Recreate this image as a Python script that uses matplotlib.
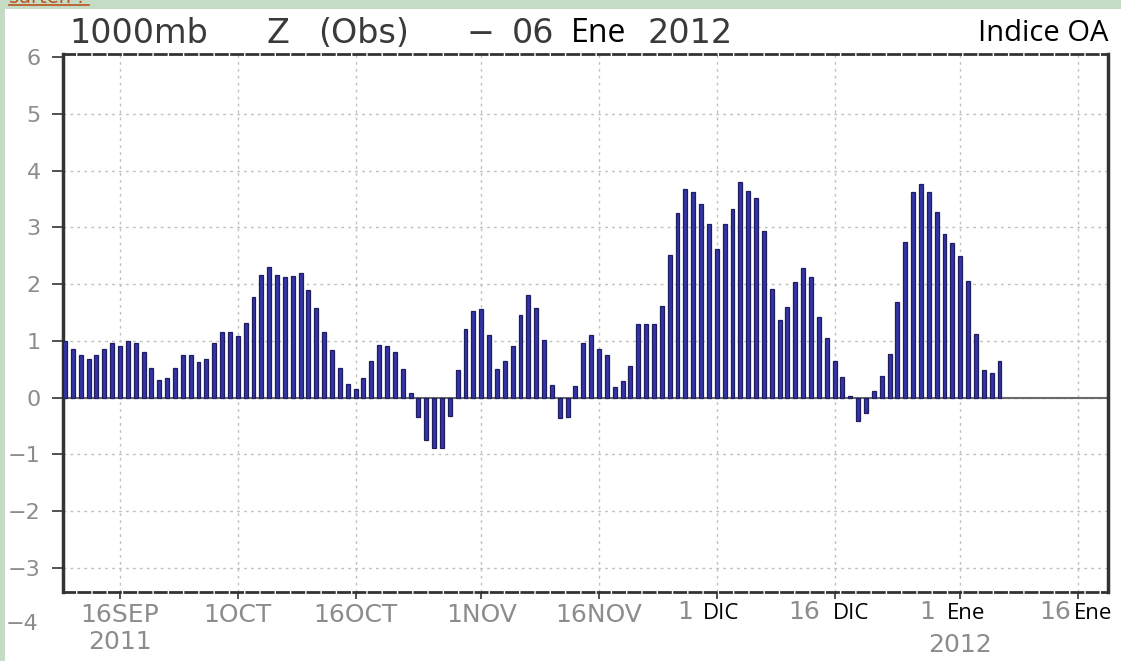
import matplotlib
matplotlib.use('Agg')
import matplotlib.pyplot as plt
import matplotlib.dates as mdates
from matplotlib.patches import Rectangle
from matplotlib.lines import Line2D
import pandas as pd

# daily index values, 9 Sep 2011 .. 6 Jan 2012
start_day = '2011-09-09'
end_day = '2012-01-06'
values = [
    # Sep 9-30
    0.99, 0.86, 0.75, 0.68, 0.75, 0.86, 0.97, 0.91, 0.99, 0.97, 0.81, 0.52,
    0.31, 0.34, 0.52, 0.75, 0.75, 0.62, 0.68, 0.97, 1.15, 1.15,
    # Oct
    1.09, 1.32, 1.77, 2.16, 2.30, 2.16, 2.12, 2.15, 2.19, 1.90, 1.58, 1.15,
    0.83, 0.53, 0.24, 0.15, 0.34, 0.65, 0.93, 0.91, 0.80, 0.50, 0.08, -0.35,
    -0.75, -0.89, -0.89, -0.32, 0.49, 1.21, 1.52,
    # Nov
    1.56, 1.11, 0.50, 0.65, 0.91, 1.46, 1.81, 1.58, 1.02, 0.22, -0.36, -0.34,
    0.21, 0.97, 1.11, 0.86, 0.75, 0.18, 0.29, 0.55, 1.29, 1.29, 1.29, 1.62,
    2.52, 3.25, 3.68, 3.62, 3.41, 3.06,
    # Dec
    2.62, 3.06, 3.33, 3.80, 3.65, 3.52, 2.93, 1.91, 1.36, 1.60, 2.03, 2.28,
    2.12, 1.42, 1.05, 0.64, 0.36, 0.02, -0.42, -0.28, 0.11, 0.38, 0.76, 1.68,
    2.75, 3.62, 3.77, 3.62, 3.27, 2.88, 2.72,
    # Jan
    2.50, 2.05, 1.12, 0.49, 0.44, 0.64,
]

tick_dates = ['2011-09-16', '2011-10-01', '2011-10-16', '2011-11-01', '2011-11-16',
              '2011-12-01', '2011-12-16', '2012-01-01', '2012-01-16']
plain_labels = ['16SEP\n2011', '1OCT', '16OCT', '1NOV', '16NOV']
# edited labels: (gray day number, black month name)
edited_days = ['1', '16', '1', '16']
edited_months = ['DIC', 'DIC', 'Ene', 'Ene']
y_ticks = [-3, -2, -1, 0, 1, 2, 3, 4, 5, 6]

GRAY = '#8c8c8c'
DARK = '#333333'

days = pd.date_range(start_day, end_day, freq='D')
xnum = mdates.date2num(days)
tnum = mdates.date2num(pd.to_datetime(tick_dates))
px_day = 7.852  # pixels per day on the x axis

fig = plt.figure(figsize=(11.21, 6.61), dpi=100)
fig.patch.set_facecolor('#c5dbc5')
fig.add_artist(Rectangle((5 / 1121, 0), 1, 1 - 9 / 661, transform=fig.transFigure,
                         facecolor='white', edgecolor='none', zorder=0))

# partial link text at top left, mostly cut off (as in the source page)
fig.text(9 / 1121, 1 - 3 / 661, 'sartén :', color='#b8541e', fontsize=14,
         family='DejaVu Sans', va='baseline', ha='left')
fig.add_artist(Line2D([9 / 1121, 89 / 1121], [1 - 5 / 661] * 2, transform=fig.transFigure,
                      color='#b8541e', lw=1.2))

ax = fig.add_axes([63 / 1121, 1 - 592 / 661, (1108 - 63) / 1121, (592 - 54) / 661])
ax.set_facecolor('white')

ax.axhline(0, color='#6a6a6a', lw=1.5, zorder=1)
ax.bar(xnum, values, width=0.5, color='#3434a8', edgecolor='#1e1e5e', lw=0.9, zorder=3)

ax.set_xlim(tnum[0] - 57 / px_day, tnum[-1] + 30 / px_day)
ax.set_ylim(-3.43, 6.06)

# grid
for y in y_ticks[:-1]:
    ax.axhline(y, color='#c0c0c0', lw=1, ls=(0, (2, 3)), zorder=0.5)
for t in tnum:
    ax.axvline(t, color='#c0c0c0', lw=1, ls=(0, (2, 3)), zorder=0.5)

# spines
for s in ['left', 'right']:
    ax.spines[s].set_color(DARK)
    ax.spines[s].set_linewidth(2.5)
for s in ['top', 'bottom']:
    ax.spines[s].set_color(DARK)
    ax.spines[s].set_linewidth(2)
    ax.spines[s].set_linestyle((0, (4, 1.5)))

ax.set_yticks(y_ticks)
ax.set_yticklabels([str(v).replace('-', '\u2212') for v in y_ticks])
ax.tick_params(axis='y', direction='out', length=8, width=1.2, color=DARK,
               labelsize=16, labelcolor=GRAY, pad=8)
ax.text(-0.024, -4, '\u22124', transform=ax.get_yaxis_transform(), ha='right', va='center',
        fontsize=16, color=GRAY, clip_on=False)

ax.set_xticks(tnum)
ax.set_xticklabels(plain_labels + [''] * len(edited_days))
ax.tick_params(axis='x', direction='out', length=5, width=1.2, color=DARK,
               labelsize=18, labelcolor=GRAY, pad=3)
for lab in ax.get_xticklabels():
    lab.set_linespacing(1.15)

# edited month labels (day number in gray, month name in black)
xtr = ax.get_xaxis_transform()
day_off = [-24, -14, -25, -7]
mon_off = [-14, -2, -13, -4]
for t, d, m, do, mo in zip(tnum[5:], edited_days, edited_months, day_off, mon_off):
    ax.text(t + do / px_day, -0.015, d, transform=xtr, ha='right', va='top',
            fontsize=18, color=GRAY, clip_on=False)
    ax.text(t + mo / px_day, -0.02, m, transform=xtr, ha='left', va='top',
            fontsize=16, color='black', family='Open Sans', clip_on=False)
ax.text(tnum[7], -0.077, '2012', transform=xtr, ha='center', va='top',
        fontsize=18, color=GRAY, clip_on=False)

# title pieces
title_parts = ['1000mb', 'Z', '(Obs)', '\u2212', '06']
title_x = [69, 266, 318, 467, 512]
for txt, px in zip(title_parts, title_x):
    fig.text(px / 1121, 1 - 43 / 661, txt, fontsize=24, color='#3a3a3a',
             ha='left', va='baseline')
fig.text(571 / 1121, 1 - 42 / 661, 'Ene', fontsize=23, color='black',
         family='Open Sans', ha='left', va='baseline')
fig.text(648 / 1121, 1 - 43 / 661, '2012', fontsize=24, color='#3a3a3a',
         ha='left', va='baseline')
fig.text(1108 / 1121, 1 - 41 / 661, 'Indice OA', fontsize=21, color='black',
         family='Open Sans', ha='right', va='baseline')

fig.savefig('out.png', dpi=100, facecolor=fig.get_facecolor())
